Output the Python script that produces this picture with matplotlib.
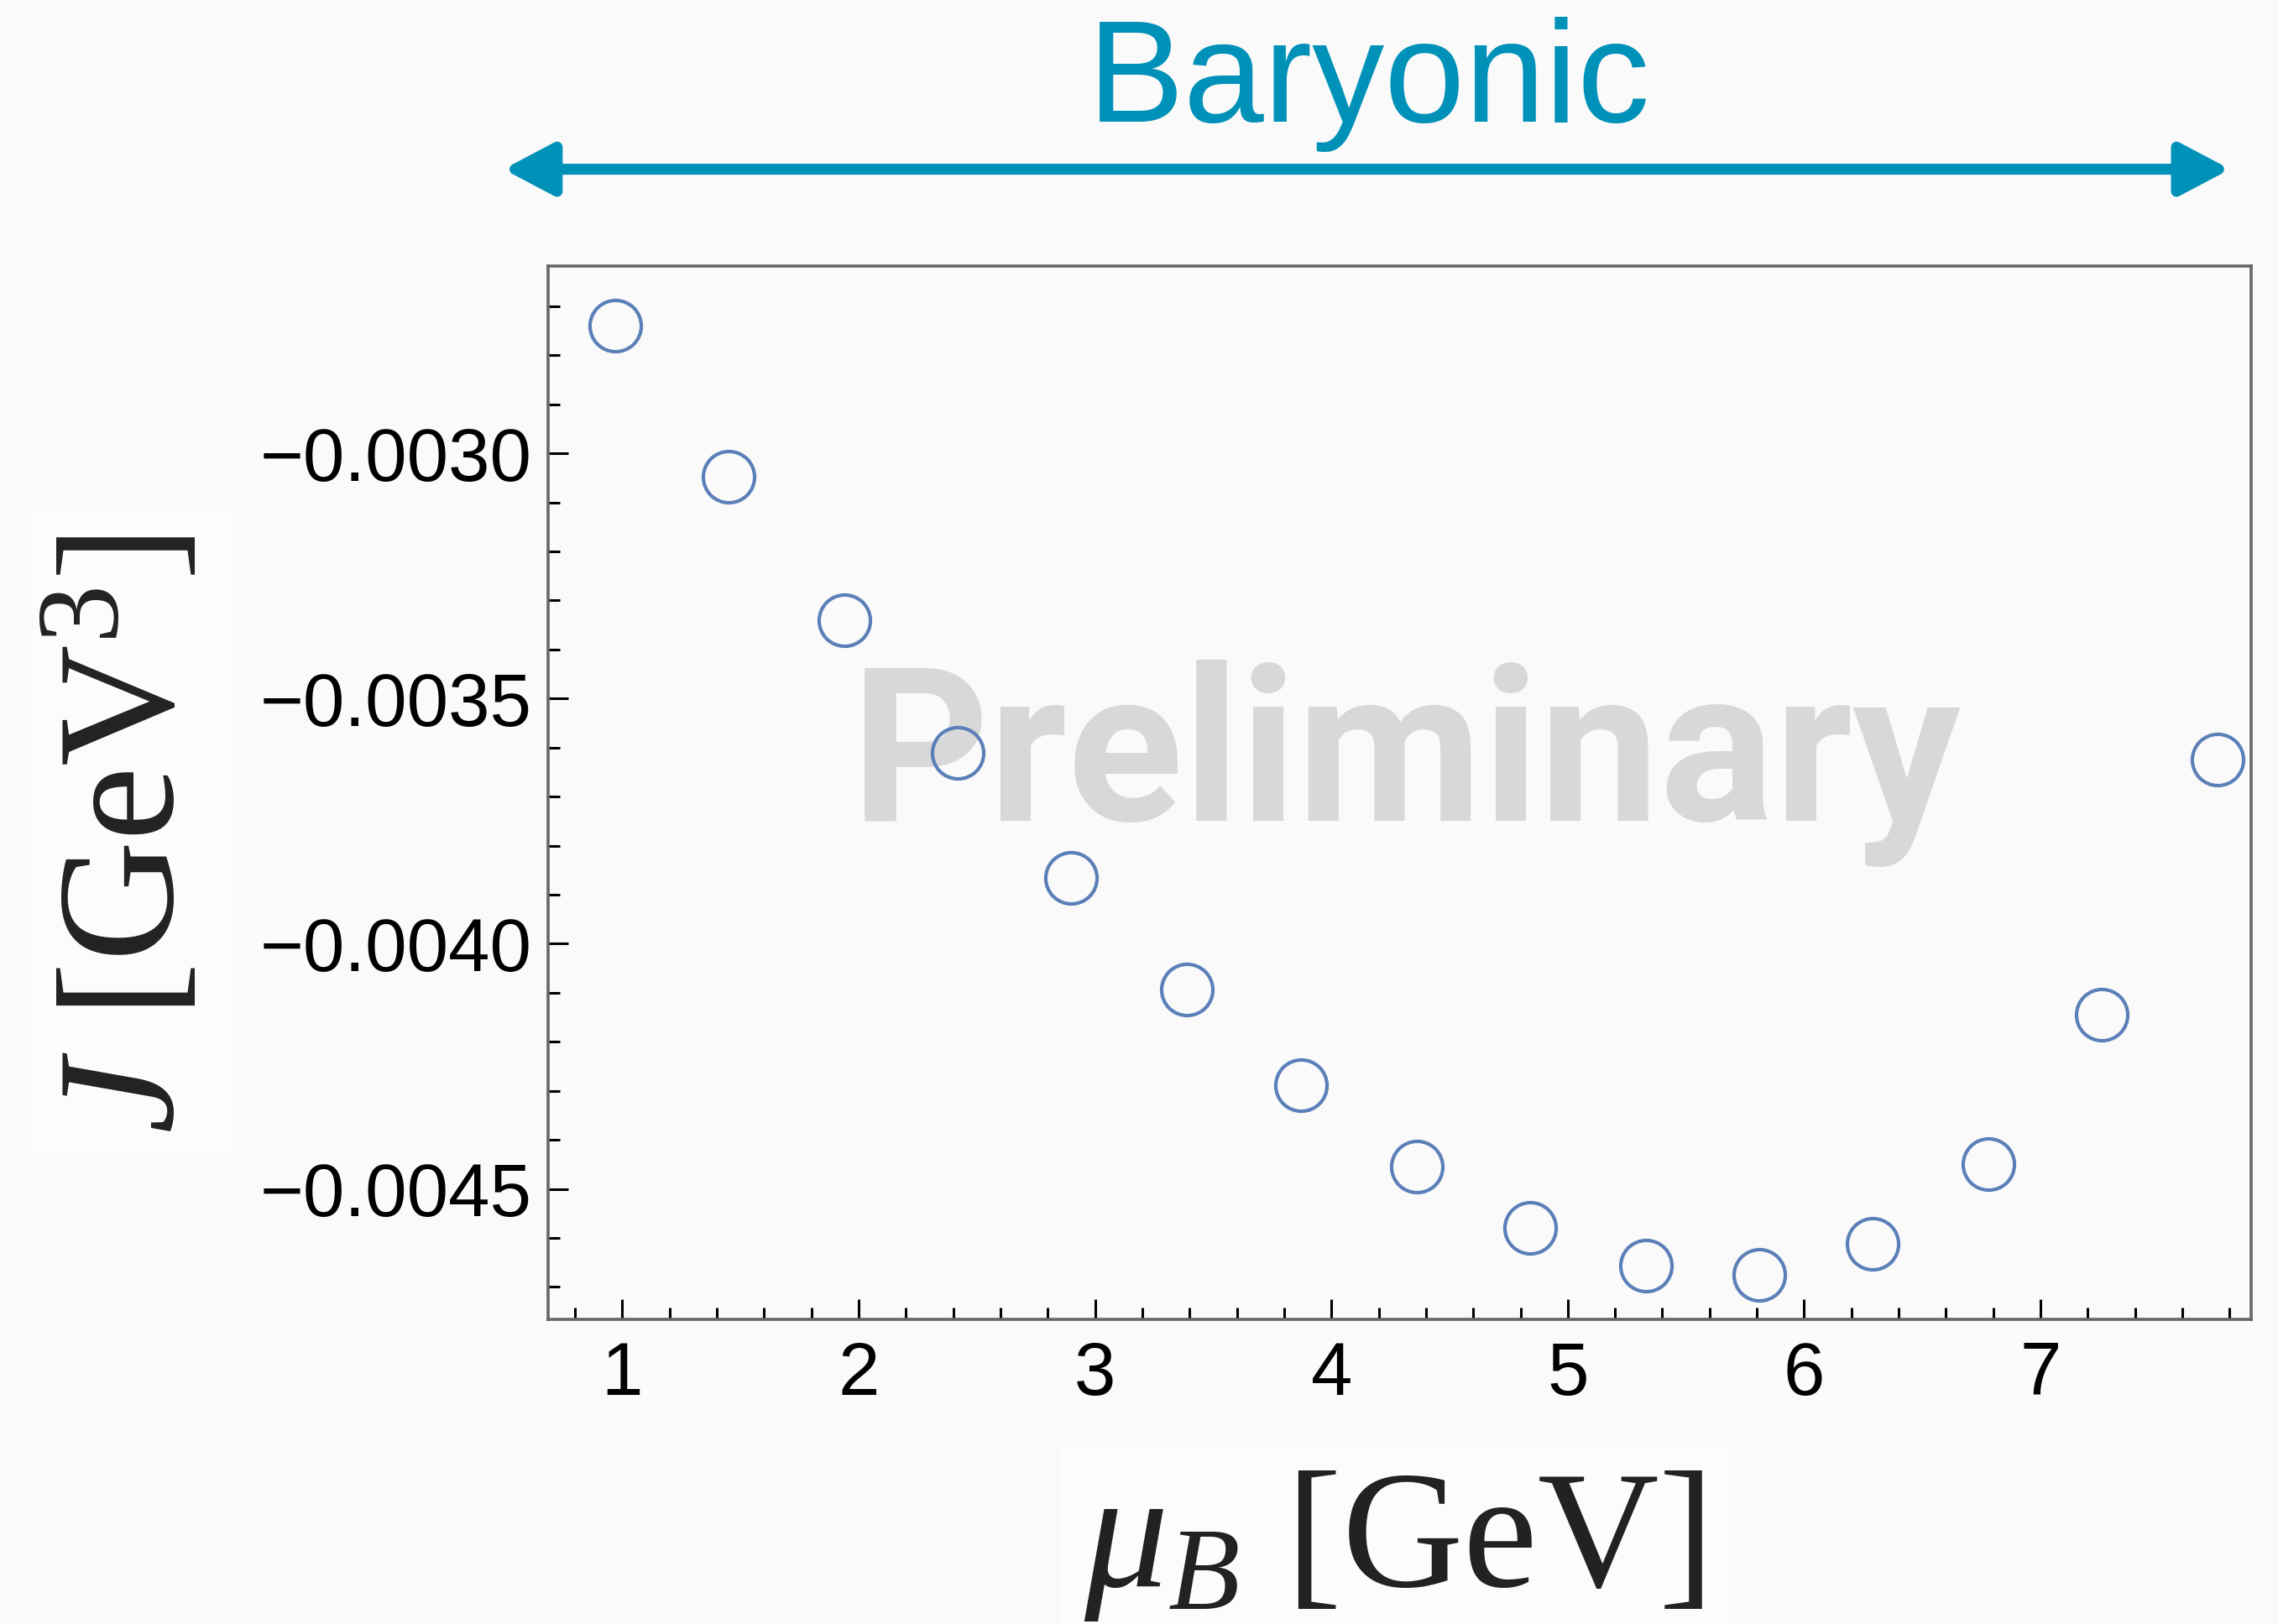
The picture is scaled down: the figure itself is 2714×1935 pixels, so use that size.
import matplotlib
matplotlib.use("Agg")
import matplotlib.pyplot as plt
from matplotlib.patches import FancyArrowPatch
from matplotlib.ticker import MultipleLocator, FuncFormatter

# data
mu_B = [0.97, 1.45, 1.94, 2.42, 2.90, 3.39, 3.87, 4.36, 4.84, 5.33,
        5.81, 6.29, 6.78, 7.26, 7.75]
J_vals = [-0.002739, -0.003047, -0.003341, -0.003611, -0.003865, -0.004094,
          -0.004289, -0.004455, -0.004580, -0.004657, -0.004675, -0.004612,
          -0.004449, -0.004144, -0.003625]
x_ticks = [1, 2, 3, 4, 5, 6, 7]
y_ticks = [-0.0030, -0.0035, -0.0040, -0.0045]

plt.rcParams["mathtext.fontset"] = "custom"
plt.rcParams["mathtext.rm"] = "Liberation Serif"
plt.rcParams["mathtext.it"] = "Liberation Serif:italic"

bg = "#fafafa"
blue = "#0091b9"

fig = plt.figure(figsize=(13.57, 9.675), dpi=200, facecolor=bg)
ax = fig.add_axes([0.2406, 0.1876, 0.7476, 0.6486], facecolor=bg)

ax.plot(mu_B, J_vals, "o", ms=22, mfc="none", mec="#5b80b8", mew=1.5, zorder=3)

ax.set_xlim(0.686, 7.891)
ax.set_ylim(-0.004766, -0.002618)

ax.set_xticks(x_ticks)
ax.set_yticks(y_ticks)
ax.xaxis.set_minor_locator(MultipleLocator(0.2))
ax.yaxis.set_minor_locator(MultipleLocator(0.0001))
ax.yaxis.set_major_formatter(FuncFormatter(lambda v, p: ("%.4f" % v).replace("-", "\u2212")))

ax.tick_params(which="both", direction="in", top=False, right=False,
               color="black", width=1.1, labelsize=32)
ax.tick_params(which="major", length=8.6)
ax.tick_params(which="minor", length=5)
ax.tick_params(axis="x", pad=9)
ax.tick_params(axis="y", pad=7)
for lab in ax.get_xticklabels() + ax.get_yticklabels():
    lab.set_fontfamily("Liberation Sans")
for s in ax.spines.values():
    s.set_color("#666666")
    s.set_linewidth(1.3)

# watermark
ax.text(0.504, 0.473, "Preliminary", transform=ax.transAxes, ha="center",
        va="baseline", fontsize=92, fontweight="semibold", color="#d8d8d8",
        fontfamily="Roboto", zorder=1)

# axis labels
fig.text(0.0759, 0.4858, r"$J$ [GeV$^3$]", rotation=90, rotation_mode="anchor",
         ha="center", va="baseline", fontsize=72, color="#222222",
         fontfamily="Liberation Serif",
         bbox=dict(facecolor="#fcfcfc", edgecolor="none", pad=10))
fig.text(0.6117, 0.0233, r"$\mu_B$ [GeV]", ha="center", va="baseline",
         fontsize=72, color="#222222", fontfamily="Liberation Serif",
         bbox=dict(facecolor="#fcfcfc", edgecolor="none", pad=10))

# Baryonic arrow
arrow = FancyArrowPatch((0.221, 0.8958), (0.979, 0.8958), transform=fig.transFigure,
                        arrowstyle="<|-|>,head_length=18,head_width=9.5",
                        mutation_scale=1, color=blue, lw=4.7,
                        shrinkA=0, shrinkB=0)
fig.patches.append(arrow)
fig.text(0.601, 0.925, "Baryonic", ha="center", va="baseline", fontsize=62,
         color=blue, fontfamily="Liberation Sans")

fig.savefig("out.png", dpi=200, facecolor=bg)
